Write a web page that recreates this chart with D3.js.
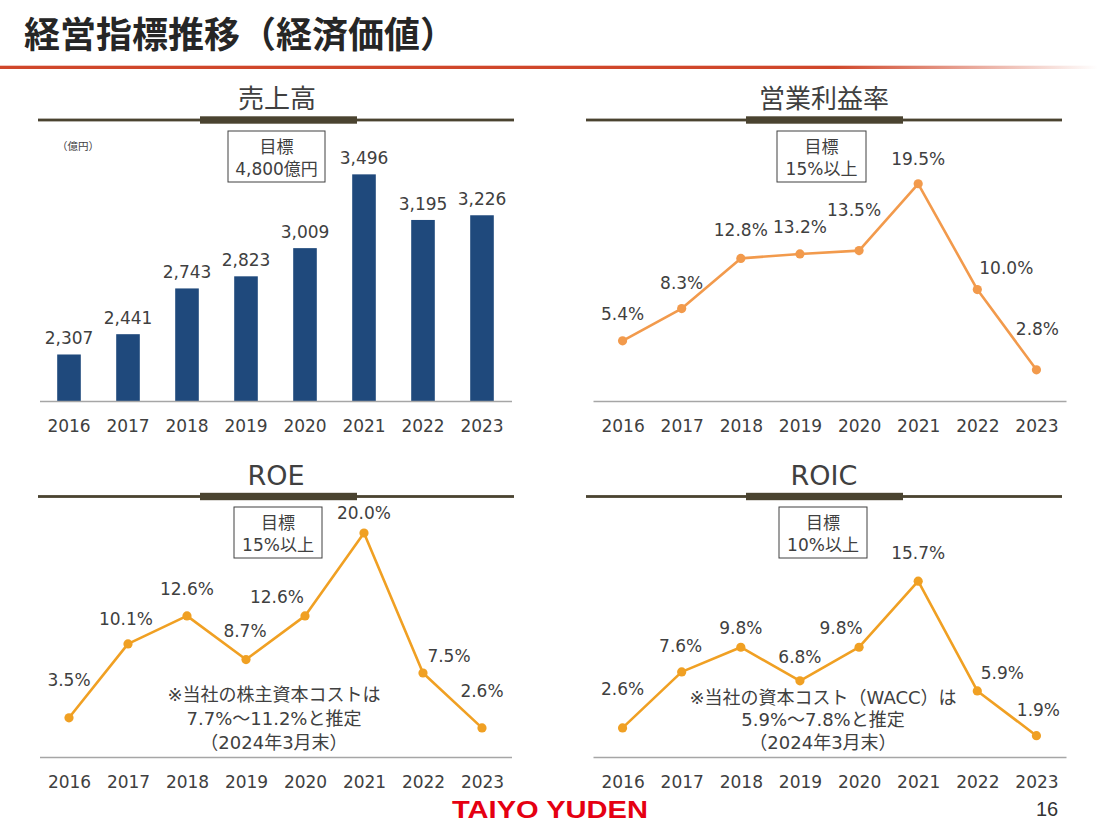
<!DOCTYPE html>
<html><head><meta charset="utf-8">
<script src="https://cdn.jsdelivr.net/npm/d3@7"></script>
<style>
html,body{margin:0;padding:0;background:#fff;}
svg{display:block;}
</style></head>
<body>
<script>
// ---------- data ----------
const years = ["2016","2017","2018","2019","2020","2021","2022","2023"];
const salesValues = [2307, 2441, 2743, 2823, 3009, 3496, 3195, 3226];
const opMarginValues = [5.4, 8.3, 12.8, 13.2, 13.5, 19.5, 10.0, 2.8];
const roeValues = [3.5, 10.1, 12.6, 8.7, 12.6, 20.0, 7.5, 2.6];
const roicValues = [2.6, 7.6, 9.8, 6.8, 9.8, 15.7, 5.9, 1.9];
const pageTitle = "経営指標推移（経済価値）";
const panelTitles = ["売上高", "営業利益率", "ROE", "ROIC"];
const targetTexts = [["目標", "4,800億円"], ["目標", "15%以上"], ["目標", "15%以上"], ["目標", "10%以上"]];
const unitLabel = "（億円）";
const roeNote = ["※当社の株主資本コストは", "7.7%～11.2%と推定", "（2024年3月末）"];
const roicNote = ["※当社の資本コスト（WACC）は", "5.9%～7.8%と推定", "（2024年3月末）"];
const logoText = "TAIYO YUDEN";
const pageNumber = "16";

// ---------- layout ----------
const W = 1100, H = 825;
const FONT = "'DejaVu Sans','Noto Sans CJK JP',sans-serif";
const TXT = "#404040";
const FS = 17;
const svg = d3.select("body").append("svg").attr("width", W).attr("height", H);

// header title + red rule
svg.append("text").attr("x", 24).attr("y", 48)
  .attr("font-family", "'Noto Sans CJK JP',sans-serif").attr("font-weight", 700)
  .attr("font-size", 36).attr("fill", "#262626").text(pageTitle);
const defs = svg.append("defs");
const grad = defs.append("linearGradient").attr("id", "redfade")
  .attr("x1", 0).attr("x2", 1).attr("y1", 0).attr("y2", 0);
grad.append("stop").attr("offset", "0%").attr("stop-color", "#d0472a").attr("stop-opacity", 1);
grad.append("stop").attr("offset", "76%").attr("stop-color", "#d0472a").attr("stop-opacity", 1);
grad.append("stop").attr("offset", "100%").attr("stop-color", "#d0472a").attr("stop-opacity", 0);
svg.append("rect").attr("x", 0).attr("y", 65.7).attr("width", 1098).attr("height", 3.3)
  .attr("fill", "url(#redfade)");

const panels = [
  {type: "bar", values: salesValues, xr: [39.5, 511.5], axisY: 401, domain: [2000, 4000], top: 98,
   header: {y: 120, x0: 38, x1: 514, t0: 200, t1: 357}, titleY: 98, titleX: 277,
   box: {x: 228, y: 131, w: 97, h: 51}, unit: true, color: "#1f497c"},
  {type: "line", values: opMarginValues, xr: [593, 1066], axisY: 401, domain: [0, 25], top: 122.5,
   header: {y: 120, x0: 586, x1: 1062, t0: 746, t1: 903}, titleY: 98, titleX: 824,
   box: {x: 777, y: 131, w: 89, h: 51}, color: "#f29a4c",
   offsets: [[0,-27],[0,-26],[0,-28],[0,-27],[-5,-41],[0,-25],[29,-22],[1,-41]]},
  {type: "line", values: roeValues, xr: [39.5, 511.5], axisY: 757, domain: [0, 25], top: 477,
   header: {y: 496.5, x0: 38, x1: 514, t0: 200, t1: 357}, titleY: 475, titleX: 276,
   box: {x: 234, y: 507, w: 88, h: 51}, color: "#f0a023", note: roeNote, noteX: 274, noteY: [694, 718, 742],
   offsets: [[0,-38],[-2,-25],[0,-27],[-1,-29],[-28,-19],[0,-20],[26,-17],[0,-37]]},
  {type: "line", values: roicValues, xr: [593, 1066], axisY: 757, domain: [0, 25], top: 477,
   header: {y: 496.5, x0: 586, x1: 1062, t0: 746, t1: 903}, titleY: 475, titleX: 824,
   box: {x: 779, y: 507, w: 88, h: 51}, color: "#f0a023", note: roicNote, noteX: 823, noteY: [697, 719, 742],
   offsets: [[0,-39],[-1,-26],[0,-19],[0,-24],[-18,-19],[0,-28],[25,-18],[2,-26]]}
];

panels.forEach((p, i) => {
  const g = svg.append("g");
  // header rule
  g.append("rect").attr("x", p.header.x0).attr("y", p.header.y - 1.4).attr("width", p.header.x1 - p.header.x0)
    .attr("height", 2.8).attr("fill", "#4a4330");
  g.append("rect").attr("x", p.header.t0).attr("y", p.header.y - 3.7).attr("width", p.header.t1 - p.header.t0)
    .attr("height", 7.4).attr("fill", "#4a4330");
  // title
  const isLatin = /^[A-Z]+$/.test(panelTitles[i]);
  g.append("text").attr("x", p.titleX).attr("y", p.titleY + 10)
    .attr("text-anchor", "middle").attr("font-family", FONT).attr("font-size", isLatin ? 27 : 26)
    .attr("fill", TXT).text(panelTitles[i]);

  // scales
  const y = d3.scaleLinear().domain(p.domain).range([p.axisY, p.top]);
  if (p.type === "bar") {
    const x = d3.scaleBand().domain(years).range(p.xr).paddingInner(0.6).paddingOuter(0.3);
    const xCenter = d => x(d) + x.bandwidth() / 2;
    g.selectAll("rect.bar").data(p.values).join("rect").attr("class", "bar")
      .attr("x", (d, j) => x(years[j])).attr("width", x.bandwidth())
      .attr("y", d => y(d)).attr("height", d => p.axisY - y(d)).attr("fill", p.color);
    g.selectAll("text.val").data(p.values).join("text").attr("class", "val")
      .attr("x", (d, j) => xCenter(years[j])).attr("y", d => y(d) - 10)
      .attr("text-anchor", "middle").attr("font-family", FONT).attr("font-size", FS)
      .attr("fill", TXT).text(d => d3.format(",")(d));
    const ax = g.append("g").attr("transform", `translate(0,${p.axisY})`)
      .call(d3.axisBottom(x).tickSize(0).tickSizeOuter(0).tickPadding(19));
    styleAxis(ax);
  } else {
    const x = d3.scalePoint().domain(years).range(p.xr).padding(0.5);
    const ax = g.append("g").attr("transform", `translate(0,${p.axisY})`)
      .call(d3.axisBottom(x).tickSize(0).tickSizeOuter(0).tickPadding(19));
    styleAxis(ax);
    const line = d3.line().x((d, j) => x(years[j])).y(d => y(d));
    g.append("path").datum(p.values).attr("d", line).attr("fill", "none")
      .attr("stroke", p.color).attr("stroke-width", 2.6).attr("stroke-linejoin", "round");
    g.selectAll("circle").data(p.values).join("circle")
      .attr("cx", (d, j) => x(years[j])).attr("cy", d => y(d)).attr("r", 4.6).attr("fill", p.color);
    g.selectAll("text.val").data(p.values).join("text").attr("class", "val")
      .attr("x", (d, j) => x(years[j]) + p.offsets[j][0])
      .attr("y", (d, j) => y(d) + p.offsets[j][1] + 6)
      .attr("text-anchor", "middle").attr("font-family", FONT).attr("font-size", FS)
      .attr("fill", TXT).text(d => d.toFixed(1) + "%");
  }

  // target box
  g.append("rect").attr("x", p.box.x).attr("y", p.box.y).attr("width", p.box.w).attr("height", p.box.h)
    .attr("fill", "#fff").attr("stroke", "#404040").attr("stroke-width", 1);
  const bx = p.box.x + p.box.w / 2;
  g.append("text").attr("x", bx).attr("y", p.box.y + 22).attr("text-anchor", "middle")
    .attr("font-family", FONT).attr("font-size", 17).attr("fill", TXT).text(targetTexts[i][0]);
  g.append("text").attr("x", bx).attr("y", p.box.y + 44).attr("text-anchor", "middle")
    .attr("font-family", FONT).attr("font-size", 17).attr("fill", TXT).text(targetTexts[i][1]);

  if (p.unit) {
    g.append("text").attr("x", 57).attr("y", 150).attr("font-family", FONT)
      .attr("font-size", 10.5).attr("fill", TXT).text(unitLabel);
  }
  if (p.note) {
    p.note.forEach((t, k) => {
      g.append("text").attr("x", p.noteX).attr("y", p.noteY[k] + 7).attr("text-anchor", "middle")
        .attr("font-family", FONT).attr("font-size", 18).attr("fill", TXT).text(t);
    });
  }
});

function styleAxis(ax) {
  ax.select(".domain").attr("stroke", "#a6a6a6").attr("stroke-width", 1.5);
  ax.selectAll(".tick text").attr("font-family", FONT).attr("font-size", FS).attr("fill", TXT);
}

// footer
svg.append("text").attr("x", 452).attr("y", 818).attr("font-family", "'Liberation Sans',Arial,sans-serif")
  .attr("font-weight", 700).attr("font-size", 24).attr("fill", "#e50012")
  .attr("textLength", 196).attr("lengthAdjust", "spacingAndGlyphs").text(logoText);
svg.append("text").attr("x", 1047).attr("y", 816).attr("text-anchor", "middle")
  .attr("font-family", "'Liberation Sans',Arial,sans-serif").attr("font-size", 20)
  .attr("fill", "#333").text(pageNumber);
</script>
</body></html>
